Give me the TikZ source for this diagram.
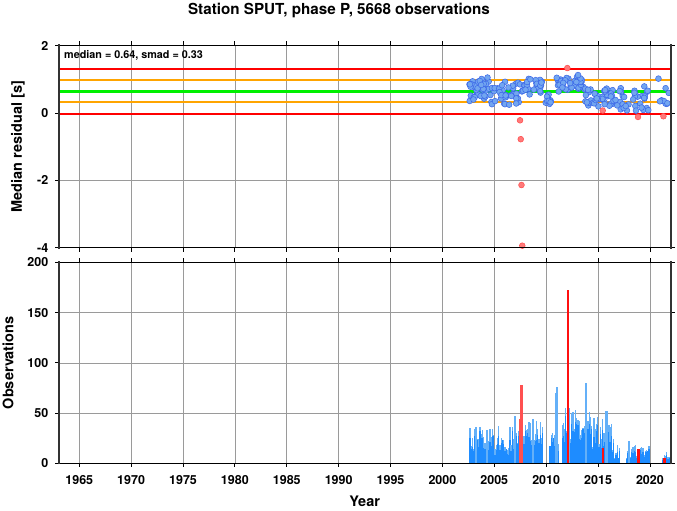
\documentclass[tikz,border=0pt]{standalone}
\usepackage{fontspec}
\setmainfont{TeX Gyre Heros}
\definecolor{dotfill}{HTML}{72A6F0}
\definecolor{dotedge}{HTML}{3A66E8}
\definecolor{rdotfill}{HTML}{FF7A7A}
\definecolor{rdotedge}{HTML}{FF4A4A}
\definecolor{barA}{HTML}{1E8CFF}
\definecolor{barB}{HTML}{64B0F8}
\definecolor{redA}{HTML}{FF1010}
\definecolor{redB}{HTML}{FF5050}
\definecolor{framegray}{HTML}{333333}
\definecolor{gridgray}{HTML}{9A9A9A}
\definecolor{lineorange}{HTML}{FFA500}
\definecolor{linegreen}{HTML}{00F000}
\newcommand\dotseg[5]{%
  \foreach \k in {1,...,#5}{%
    \pgfmathsetmacro\px{#1-1963+(#2-#1)*rnd}%
    \pgfmathsetmacro\py{#3+(#4-#3)*(0.25*rnd+0.75*rnd)}%
    \filldraw[bdot] (\px,\py) circle[radius=2.9pt];}}
\newcommand\histseg[4]{%
  \foreach \k in {0,...,#2}{%
    \pgfmathsetmacro\hh{#3+(#4-#3)*rnd}%
    \pgfmathsetmacro\hd{\hh*(0.55+0.45*rnd)}%
    \fill[barB] ({#1-1963+\k*0.12},0) rectangle ++(0.13,\hh);
    \fill[barA] ({#1-1963+\k*0.12},0) rectangle ++(0.13,\hd);}}
\newcommand\spike[3]{\fill[#3] ({#1-1963},0) rectangle ++(0.22,#2);}
\begin{document}
\begin{tikzpicture}[x=1pt,y=-1pt,font=\bfseries,
  gridline/.style={draw=gridgray,line width=0.6pt},
  tickmark/.style={draw=black,line width=0.8pt},
  bdot/.style={fill=dotfill,draw=dotedge,line width=0.5pt},
  rdot/.style={fill=rdotfill,draw=rdotedge,line width=0.5pt},
  lbl/.style={inner sep=0pt,font=\fontsize{12.5}{14}\bfseries},
  axtitle/.style={inner sep=0pt,font=\fontsize{14.5}{16}\bfseries},
  hframe/.style={draw=black,line width=1.5pt},
  lframe/.style={draw=framegray,line width=2pt},
  rframe/.style={draw=framegray,line width=2pt}]
\useasboundingbox (0,0) rectangle (677,511);
\fill[white] (0,0) rectangle (677,511);

\node[axtitle,font=\fontsize{15.2}{17}\bfseries,anchor=base] (title) at (339,14.3) {Station SPUT, phase P, 5668 observations};

% ================= TOP PANEL =================
\begin{scope}[shift={(58.5pt,-112.9pt)},x=10.376pt,y=33.7pt]
  \foreach \yr in {1965,1970,...,2020}{
    \draw[gridline] ({\yr-1963},-4) -- ({\yr-1963},2);
    \draw[tickmark] ({\yr-1963},-4) -- ++(0,-4pt);
    \draw[tickmark] ({\yr-1963},2) -- ++(0,4pt);
  }
  \foreach \v in {-2,0}{
    \draw[gridline] (0,\v) -- (59,\v);
  }
  \foreach \v/\n in {2/a,0/b,-2/c,-4/d}{
    \draw[tickmark] (0,\v) -- ++(-4pt,0);
    \draw[tickmark] (59,\v) -- ++(4pt,0);
    \node[lbl,anchor=east] (yt\n) at ([xshift=-10pt]0,\v) {\v};
  }
  % reference lines
  \draw[red,line width=2pt] (0,1.30) -- (59,1.30);
  \draw[lineorange,line width=2pt] (0,0.97) -- (59,0.97);
  \draw[linegreen,line width=3.5pt] (0,0.64) -- (59,0.64);
  \draw[lineorange,line width=2pt] (0,0.31) -- (59,0.31);
  \draw[red,line width=2pt] (0,-0.02) -- (59,-0.02);
  % data points
  \pgfmathsetseed{4242}
  \dotseg{2002.6}{2005.0}{0.25}{1.10}{42}
  \dotseg{2005.0}{2007.5}{0.18}{1.05}{36}
  \dotseg{2007.6}{2009.6}{0.45}{1.05}{28}
  \dotseg{2009.8}{2010.6}{0.15}{0.65}{10}
  \dotseg{2011.0}{2013.7}{0.60}{1.15}{36}
  \dotseg{2013.7}{2016.5}{0.18}{0.78}{40}
  \dotseg{2016.6}{2019.9}{0.00}{0.82}{34}
  \dotseg{2020.7}{2022.0}{0.00}{1.10}{9}
  \foreach \yr/\v in {2012.04/1.33,2007.48/-0.22,2007.55/-0.78,2007.62/-2.14,
                      2007.7/-3.94,2015.45/0.07,2018.85/-0.12,2021.3/-0.1}{
    \filldraw[rdot] ({\yr-1963},\v) circle[radius=2.9pt];
  }
  % frame
  \draw[hframe] (0,2) -- (59,2);
  \draw[hframe] (0,-4) -- (59,-4);
  \draw[lframe] (0,-4.03) -- (0,2.03);
  \draw[rframe] (59,-4.03) -- (59,2.03);
  \node[lbl,font=\fontsize{10.8}{12}\bfseries,anchor=base west] (stats) at ([yshift=-13pt]0.53,2) {median = 0.64, smad = 0.33};
\end{scope}
\node[axtitle,rotate=90] (ytitle1) at (18,146.6) {Median residual [s]};

% ================= BOTTOM PANEL =================
\begin{scope}[shift={(58.5pt,-463.3pt)},x=10.376pt,y=1.005pt]
  \foreach \yr in {1965,1970,...,2020}{
    \draw[gridline] ({\yr-1963},0) -- ({\yr-1963},200);
    \draw[tickmark] ({\yr-1963},0) -- ++(0,-4pt);
    \draw[tickmark] ({\yr-1963},200) -- ++(0,4pt);
    \node[lbl,anchor=base] (xt\yr) at ([yshift=-20.7pt]{\yr-1963},0) {\yr};
  }
  \foreach \v in {50,100,150}{
    \draw[gridline] (0,\v) -- (59,\v);
  }
  \foreach \v in {0,50,100,150,200}{
    \draw[tickmark] (0,\v) -- ++(-4pt,0);
    \draw[tickmark] (59,\v) -- ++(4pt,0);
    \node[lbl,anchor=east] (yb\v) at ([xshift=-10pt]0,\v) {\v};
  }
  % histogram
  \pgfmathsetseed{777}
  \histseg{2002.6}{19}{12}{36}
  \histseg{2005.0}{18}{12}{42}
  \histseg{2007.3}{1}{30}{45}
  \histseg{2007.8}{15}{15}{44}
  \histseg{2010.3}{7}{3}{32}
  \histseg{2011.5}{2}{25}{40}
  \histseg{2011.8}{20}{24}{56}
  \histseg{2014.3}{16}{15}{48}
  \histseg{2016.3}{6}{5}{26}
  \histseg{2017.7}{18}{4}{21}
  \histseg{2021.2}{5}{5}{12}
  \foreach \yr/\h in {2006.9/47,2010.85/70,2010.95/76,2013.7/80,2015.7/52,
                      2017.9/22,2012.1/55,2008.6/44,2003.1/36,2004.2/33}{
    \spike{\yr}{\h}{barB}
  }
  \fill[redB] ({2007.4-1963},0) rectangle ({2007.7-1963},44);
  \fill[redA] ({2007.45-1963},0) rectangle ({2007.68-1963},24);
  \spike{2007.5}{78}{redB}
  \foreach \yr/\h in {2011.96/172,2015.4/15,2018.8/14,2021.3/5}{
    \spike{\yr}{\h}{redA}
  }
  % frame
  \draw[hframe] (0,200) -- (59,200);
  \draw[hframe] (0,0) -- (59,0);
  \draw[lframe] (0,-1) -- (0,201);
  \draw[rframe] (59,-1) -- (59,201);
\end{scope}
\node[axtitle,rotate=90] (ytitle2) at (8,362.8) {Observations};
\node[axtitle,anchor=base] (xtitle) at (364.7,506) {Year};
\end{tikzpicture}
\end{document}
